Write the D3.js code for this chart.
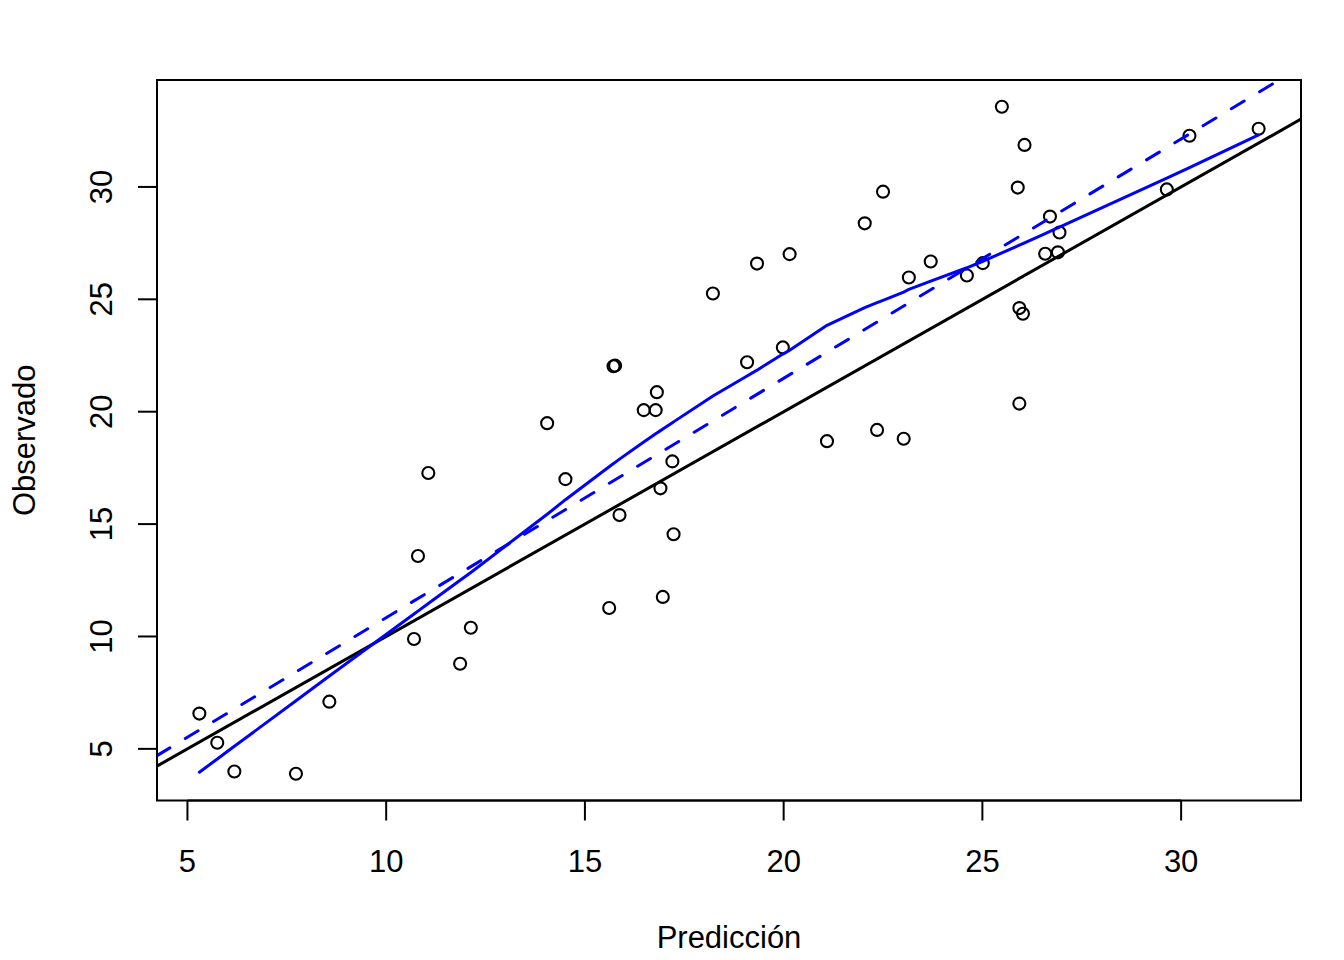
<!DOCTYPE html>
<html>
<head>
<meta charset="utf-8">
<script src="https://cdn.jsdelivr.net/npm/d3@7"></script>
<style>
  html, body { margin: 0; padding: 0; background: #fff; }
  svg { display: block; }
  text { font-family: "Liberation Sans", Arial, sans-serif; fill: #000; }
</style>
</head>
<body>
<svg id="chart" width="1344" height="960"></svg>
<script>
// Data
const prediccion = [5.30, 5.75, 6.18, 7.73, 8.57, 10.70, 10.80, 11.06, 11.86, 12.13,
  14.05, 14.51, 15.61, 15.72, 15.76, 15.87, 16.48, 16.78, 16.81, 16.90,
  16.96, 17.20, 17.23, 18.22, 19.08, 19.33, 19.98, 20.15, 21.09, 22.04,
  22.35, 22.50, 23.02, 23.15, 23.70, 24.61, 25.01, 25.49, 25.89, 25.93,
  25.93, 26.02, 26.06, 26.58, 26.70, 26.90, 26.94, 29.64, 30.21, 31.95];
const observado = [6.57, 5.27, 3.99, 3.89, 7.10, 9.89, 13.58, 17.27, 8.79, 10.39,
  19.49, 17.00, 11.27, 22.02, 22.05, 15.40, 20.07, 20.07, 20.87, 16.59,
  11.76, 17.79, 14.55, 25.26, 22.20, 26.59, 22.86, 27.01, 18.69, 28.38,
  19.19, 29.79, 18.80, 25.97, 26.68, 26.06, 26.61, 33.57, 29.97, 24.61,
  20.36, 24.36, 31.87, 27.03, 28.68, 27.09, 27.97, 29.89, 32.28, 32.59];
const xTicks = [5, 10, 15, 20, 25, 30];
const yTicks = [5, 10, 15, 20, 25, 30];
const xLabel = "Predicción";
const yLabel = "Observado";

// R-style lowess (clowess port)
function lowess(xin, yin, f = 2/3, nsteps = 3) {
  const idx = d3.range(xin.length).sort((a, b) => xin[a] - xin[b]);
  const x = idx.map(i => xin[i]), y = idx.map(i => yin[i]);
  const n = x.length;
  const delta = 0.01 * (x[n - 1] - x[0]);
  const ys = new Array(n).fill(0), rw = new Array(n).fill(1), res = new Array(n).fill(0);
  const ns = Math.max(2, Math.min(n, Math.floor(f * n + 1e-7)));
  const cube = v => v * v * v;
  function lowest(xs, nleft, nright, userw) {
    const range = x[n - 1] - x[0];
    const h = Math.max(xs - x[nleft], x[nright] - xs);
    const h9 = 0.999 * h, h1 = 0.001 * h;
    const w = new Array(n).fill(0);
    let a = 0, j = nleft;
    while (j < n) {
      w[j] = 0;
      const r = Math.abs(x[j] - xs);
      if (r <= h9) {
        w[j] = r <= h1 ? 1 : cube(1 - cube(r / h));
        if (userw) w[j] *= rw[j];
        a += w[j];
      } else if (x[j] > xs) break;
      j++;
    }
    const nrt = j - 1;
    if (a <= 0) return null;
    for (j = nleft; j <= nrt; j++) w[j] /= a;
    if (h > 0) {
      a = 0;
      for (j = nleft; j <= nrt; j++) a += w[j] * x[j];
      let b = xs - a, c = 0;
      for (j = nleft; j <= nrt; j++) c += w[j] * (x[j] - a) * (x[j] - a);
      if (Math.sqrt(c) > 0.001 * range) {
        b /= c;
        for (j = nleft; j <= nrt; j++) w[j] *= (b * (x[j] - a) + 1);
      }
    }
    let s = 0;
    for (j = nleft; j <= nrt; j++) s += w[j] * y[j];
    return s;
  }
  for (let iter = 1; iter <= nsteps + 1; iter++) {
    let nleft = 0, nright = ns - 1, last = -1, i = 0;
    for (;;) {
      if (nright < n - 1) {
        const d1 = x[i] - x[nleft], d2 = x[nright + 1] - x[i];
        if (d1 > d2) { nleft++; nright++; continue; }
      }
      const v = lowest(x[i], nleft, nright, iter > 1);
      ys[i] = v === null ? y[i] : v;
      if (last < i - 1) {
        const denom = x[i] - x[last];
        for (let j = last + 1; j < i; j++) {
          const alpha = (x[j] - x[last]) / denom;
          ys[j] = alpha * ys[i] + (1 - alpha) * ys[last];
        }
      }
      last = i;
      const cut = x[last] + delta;
      for (i = last + 1; i < n; i++) {
        if (x[i] > cut) break;
        if (x[i] === x[last]) { ys[i] = ys[last]; last = i; }
      }
      i = Math.max(last + 1, i - 1);
      if (last >= n - 1) break;
    }
    for (let k = 0; k < n; k++) res[k] = y[k] - ys[k];
    if (iter > nsteps) break;
    const ar = res.map(Math.abs).sort((a, b) => a - b);
    const m1 = Math.floor(n / 2);
    const cmad = n % 2 === 0 ? 3 * (ar[m1] + ar[n - m1 - 1]) : 6 * ar[m1];
    const sc = d3.mean(res, Math.abs);
    if (cmad < 1e-7 * sc) break;
    const c9 = 0.999 * cmad, c1 = 0.001 * cmad;
    for (let k = 0; k < n; k++) {
      const r = Math.abs(res[k]);
      rw[k] = r <= c1 ? 1 : (r <= c9 ? Math.pow(1 - Math.pow(r / cmad, 2), 2) : 0);
    }
  }
  return x.map((v, k) => [v, ys[k]]);
}

// linear fit observado ~ prediccion
const mx = d3.mean(prediccion), my = d3.mean(observado);
let sxy = 0, sxx = 0;
prediccion.forEach((v, i) => { sxy += (v - mx) * (observado[i] - my); sxx += (v - mx) * (v - mx); });
const slope = sxy / sxx, intercept = my - slope * mx;

const svg = d3.select("#chart");
const L = 157, R = 1301, T = 80, B = 800.5;

function ext4(arr) {
  const [a, b] = d3.extent(arr); const d = (b - a) * 0.04; return [a - d, b + d];
}
const x = d3.scaleLinear().domain(ext4(prediccion)).range([L, R]);
const y = d3.scaleLinear().domain(ext4(observado)).range([B, T]);

svg.append("defs").append("clipPath").attr("id", "clip")
  .append("rect").attr("x", L).attr("y", T).attr("width", R - L).attr("height", B - T);

const plot = svg.append("g").attr("clip-path", "url(#clip)");

// points
plot.selectAll("circle.pt").data(prediccion.map((v, i) => [v, observado[i]]))
  .enter().append("circle")
  .attr("cx", d => x(d[0])).attr("cy", d => y(d[1])).attr("r", 6)
  .attr("fill", "none").attr("stroke", "#000").attr("stroke-width", 2.1);

const [x0, x1] = x.domain();
// identity line
plot.append("line")
  .attr("x1", x(x0)).attr("y1", y(x0)).attr("x2", x(x1)).attr("y2", y(x1))
  .attr("stroke", "#000").attr("stroke-width", 3);
// regression line (dashed)
plot.append("line")
  .attr("x1", x(x0)).attr("y1", y(intercept + slope * x0))
  .attr("x2", x(x1)).attr("y2", y(intercept + slope * x1))
  .attr("stroke", "#0000ff").attr("stroke-width", 3)
  .attr("stroke-dasharray", "15,18").attr("stroke-linecap", "round");
// lowess
plot.append("path").datum(lowess(prediccion, observado))
  .attr("d", d3.line().x(d => x(d[0])).y(d => y(d[1])))
  .attr("fill", "none").attr("stroke", "#0000ff").attr("stroke-width", 3)
  .attr("stroke-linejoin", "round").attr("stroke-linecap", "round");

// box
svg.append("rect").attr("x", L).attr("y", T).attr("width", R - L).attr("height", B - T)
  .attr("fill", "none").attr("stroke", "#000").attr("stroke-width", 2);

// x axis
const xa = svg.append("g");
xa.append("line").attr("x1", x(xTicks[0])).attr("x2", x(xTicks[xTicks.length - 1]))
  .attr("y1", B).attr("y2", B).attr("stroke", "#000").attr("stroke-width", 2);
xTicks.forEach(t => {
  xa.append("line").attr("x1", x(t)).attr("x2", x(t)).attr("y1", B).attr("y2", B + 20)
    .attr("stroke", "#000").attr("stroke-width", 2);
  xa.append("text").attr("x", x(t)).attr("y", 872).attr("text-anchor", "middle")
    .attr("font-size", 31).text(t);
});
// y axis
const ya = svg.append("g");
yTicks.forEach(t => {
  ya.append("line").attr("x1", L - 19).attr("x2", L).attr("y1", y(t)).attr("y2", y(t))
    .attr("stroke", "#000").attr("stroke-width", 2);
  ya.append("text").attr("transform", `translate(112,${y(t)}) rotate(-90)`)
    .attr("text-anchor", "middle").attr("font-size", 31).text(t);
});
svg.append("text").attr("x", (L + R) / 2).attr("y", 948).attr("text-anchor", "middle")
  .attr("font-size", 31).text(xLabel);
svg.append("text").attr("transform", `translate(35,${(T + B) / 2}) rotate(-90)`)
  .attr("text-anchor", "middle").attr("font-size", 31).text(yLabel);
</script>
</body>
</html>
